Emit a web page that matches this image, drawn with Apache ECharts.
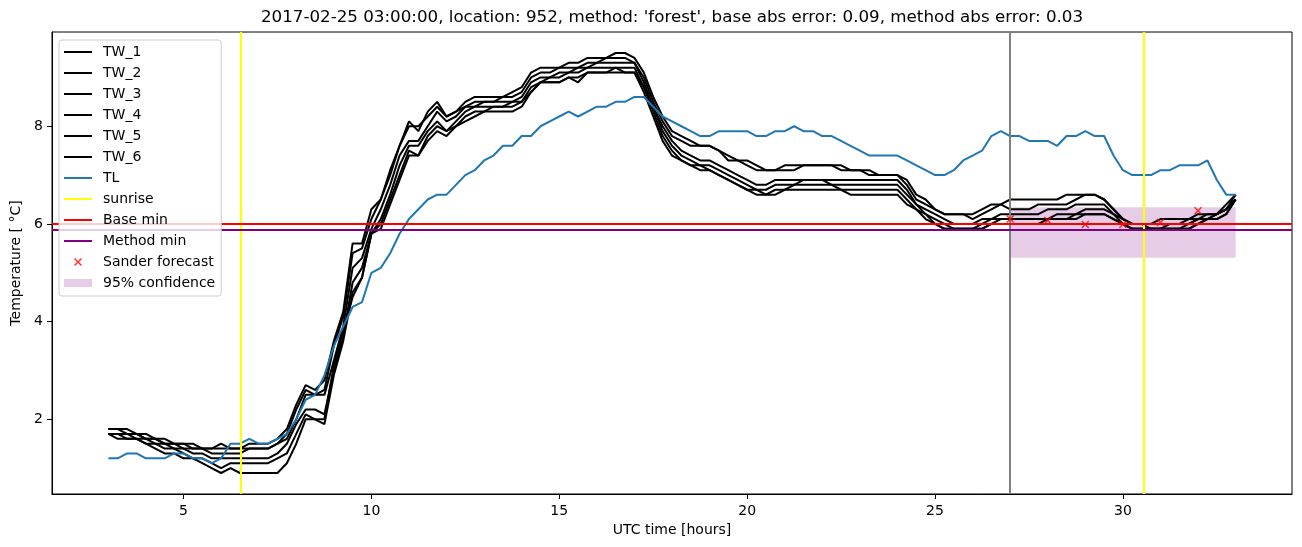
<!DOCTYPE html>
<html><head><meta charset="utf-8">
<script src="https://cdn.jsdelivr.net/npm/echarts@6/dist/echarts.min.js"></script>
<style>html,body{margin:0;padding:0;background:#fff}#c{width:1302px;height:547px}</style>
</head><body><div id="c"></div>
<script>
// sampling grid (hours, every 15 min from 3 to 33)
const hours = []; for (let i = 0; i <= 120; i++) hours.push(3 + i * 0.25);

const TW_1 = [1.8,1.8,1.8,1.7, 1.7,1.6,1.6,1.5, 1.5,1.5,1.4,1.4, 1.5,1.4,1.4,1.5, 1.5,1.5,1.6,1.8,
  2.3,2.7,2.6,2.8, 3.6,4.2,5.6,5.6, 6.3,6.5,7.1,7.6, 8.1,7.9,8.3,8.5, 8.2,8.3,8.5,8.6,
  8.6,8.6,8.6,8.7, 8.8,9.1,9.2,9.2, 9.2,9.3,9.3,9.4, 9.4,9.4,9.5,9.5, 9.4,9.1,8.6,8.2,
  7.9,7.8,7.7,7.6, 7.6,7.5,7.4,7.3, 7.3,7.2,7.1,7.1, 7.2,7.2,7.2,7.2, 7.2,7.2,7.2,7.1,
  7.1,7.1,7.0,7.0, 7.0,6.9,6.6,6.5, 6.3,6.2,6.2,6.2, 6.2,6.3,6.4,6.4, 6.5,6.5,6.5,6.5,
  6.5,6.5,6.6,6.6, 6.6,6.6,6.5,6.3, 6.1,6.0,6.0,6.0, 6.1,6.1,6.1,6.1, 6.2,6.2,6.2,6.4, 6.6];
const TW_2 = [1.8,1.8,1.7,1.7, 1.6,1.6,1.5,1.5, 1.5,1.4,1.4,1.4, 1.4,1.4,1.4,1.4, 1.4,1.4,1.5,1.7,
  2.2,2.6,2.5,2.6, 3.5,4.1,5.4,5.5, 6.1,6.5,7.0,7.6, 8.0,8.0,8.2,8.4, 8.2,8.3,8.4,8.5,
  8.5,8.5,8.6,8.6, 8.7,9.0,9.1,9.1, 9.2,9.2,9.2,9.3, 9.3,9.4,9.4,9.4, 9.3,9.0,8.5,8.1,
  7.8,7.7,7.6,7.6, 7.6,7.5,7.3,7.3, 7.2,7.1,7.1,7.1, 7.1,7.1,7.2,7.2, 7.2,7.2,7.1,7.1,
  7.1,7.0,7.0,7.0, 7.0,6.8,6.5,6.4, 6.3,6.2,6.2,6.2, 6.1,6.2,6.3,6.4, 6.3,6.3,6.3,6.4,
  6.4,6.4,6.4,6.5, 6.6,6.6,6.5,6.3, 6.1,6.0,6.0,6.0, 6.0,6.0,6.0,6.1, 6.1,6.2,6.2,6.3, 6.6];
const TW_3 = [1.7,1.7,1.7,1.7, 1.6,1.6,1.5,1.5, 1.4,1.4,1.4,1.3, 1.3,1.3,1.3,1.4, 1.4,1.4,1.5,1.6,
  2.0,2.5,2.5,2.5, 3.2,3.9,5.1,5.3, 5.9,6.3,6.8,7.4, 7.7,7.7,8.0,8.3, 8.1,8.2,8.4,8.4,
  8.5,8.5,8.5,8.5, 8.6,8.9,9.0,9.0, 9.1,9.1,9.2,9.2, 9.3,9.3,9.3,9.3, 9.3,8.9,8.4,8.0,
  7.7,7.5,7.4,7.3, 7.3,7.2,7.1,7.0, 6.9,6.8,6.8,6.9, 6.9,6.9,6.9,6.9, 6.9,6.9,6.9,6.9,
  6.9,6.9,6.9,6.9, 6.9,6.7,6.4,6.3, 6.2,6.1,6.0,6.0, 6.0,6.1,6.1,6.2, 6.2,6.2,6.2,6.2,
  6.3,6.3,6.3,6.4, 6.4,6.4,6.4,6.2, 6.1,6.0,6.0,5.9, 5.9,6.0,6.0,6.0, 6.1,6.1,6.2,6.3, 6.5];
const TW_4 = [1.7,1.7,1.7,1.6, 1.6,1.5,1.5,1.4, 1.4,1.3,1.3,1.2, 1.2,1.2,1.2,1.2, 1.2,1.2,1.3,1.5,
  1.9,2.2,2.2,2.1, 3.0,3.7,4.8,5.1, 5.8,6.1,6.6,7.2, 7.6,7.6,7.9,8.1, 7.9,8.1,8.3,8.4,
  8.4,8.4,8.4,8.5, 8.5,8.8,8.9,9.0, 9.0,9.1,9.1,9.2, 9.2,9.2,9.2,9.2, 9.2,8.8,8.4,7.9,
  7.6,7.4,7.3,7.2, 7.2,7.1,7.0,6.9, 6.8,6.7,6.7,6.8, 6.8,6.8,6.9,6.9, 6.9,6.8,6.8,6.8,
  6.8,6.8,6.8,6.8, 6.8,6.6,6.4,6.2, 6.1,6.0,5.9,5.9, 5.9,6.0,6.1,6.1, 6.1,6.1,6.1,6.1,
  6.1,6.2,6.2,6.2, 6.3,6.3,6.3,6.2, 6.0,5.9,5.9,5.9, 5.9,5.9,5.9,6.0, 6.1,6.1,6.2,6.3, 6.5];
const TW_5 = [1.7,1.7,1.6,1.6, 1.5,1.5,1.4,1.4, 1.3,1.2,1.2,1.1, 1.0,1.1,1.1,1.1, 1.1,1.1,1.2,1.3,
  1.7,2.1,2.0,1.9, 2.9,3.6,4.6,4.9, 5.8,6.0,6.5,7.0, 7.5,7.4,7.8,8.0, 7.9,8.0,8.2,8.3,
  8.3,8.4,8.4,8.4, 8.5,8.7,8.9,8.9, 8.9,9.0,9.0,9.1, 9.1,9.1,9.2,9.1, 9.1,8.8,8.3,7.8,
  7.5,7.3,7.2,7.2, 7.1,7.0,6.9,6.8, 6.7,6.7,6.6,6.7, 6.7,6.8,6.8,6.8, 6.8,6.8,6.7,6.7,
  6.7,6.7,6.7,6.7, 6.7,6.5,6.3,6.2, 6.0,5.9,5.9,5.9, 5.9,5.9,6.0,6.1, 6.1,6.1,6.1,6.1,
  6.1,6.1,6.1,6.2, 6.2,6.2,6.2,6.1, 6.0,5.9,5.9,5.9, 5.9,5.9,5.9,5.9, 6.0,6.1,6.1,6.2, 6.5];
const TW_6 = [1.7,1.6,1.6,1.6, 1.5,1.4,1.3,1.3, 1.2,1.2,1.1,1.0, 0.9,1.0,0.9,0.9, 0.9,0.9,0.9,1.1,
  1.5,2.0,2.0,2.0, 3.1,3.8,4.5,4.9, 5.8,5.9,6.4,6.9, 7.4,7.4,7.7,7.9, 7.8,8.0,8.1,8.2,
  8.3,8.3,8.3,8.3, 8.4,8.7,8.9,8.9, 8.9,9.0,8.9,9.1, 9.1,9.1,9.1,9.1, 9.1,8.7,8.2,7.7,
  7.4,7.3,7.2,7.1, 7.1,7.0,6.9,6.8, 6.7,6.6,6.6,6.6, 6.7,6.7,6.7,6.7, 6.7,6.7,6.7,6.6,
  6.6,6.6,6.6,6.6, 6.6,6.4,6.3,6.1, 6.0,5.9,5.9,5.9, 5.9,5.9,6.0,6.0, 6.0,6.0,6.0,6.0,
  6.1,6.1,6.1,6.1, 6.2,6.2,6.2,6.1, 6.0,5.9,5.9,5.9, 5.9,5.9,5.9,5.9, 6.0,6.1,6.1,6.2, 6.5];
const TL = [1.2,1.2,1.3,1.3, 1.2,1.2,1.2,1.3, 1.3,1.2,1.2,1.1, 1.2,1.5,1.5,1.6, 1.5,1.5,1.6,1.7,
  2.0,2.4,2.5,2.9, 3.5,3.9,4.3,4.4, 5.0,5.1,5.4,5.8, 6.1,6.3,6.5,6.6, 6.6,6.8,7.0,7.1,
  7.3,7.4,7.6,7.6, 7.8,7.8,8.0,8.1, 8.2,8.3,8.2,8.3, 8.4,8.4,8.5,8.5, 8.6,8.6,8.4,8.2,
  8.1,8.0,7.9,7.8, 7.8,7.9,7.9,7.9, 7.9,7.8,7.8,7.9, 7.9,8.0,7.9,7.9, 7.8,7.8,7.7,7.6,
  7.5,7.4,7.4,7.4, 7.4,7.3,7.2,7.1, 7.0,7.0,7.1,7.3, 7.4,7.5,7.8,7.9, 7.8,7.8,7.7,7.7,
  7.7,7.6,7.8,7.8, 7.9,7.8,7.8,7.4, 7.1,7.0,7.0,7.0, 7.1,7.1,7.2,7.2, 7.2,7.3,6.9,6.6, 6.6];

const forecastHours = [27, 28, 29, 30, 31, 32];
const forecastValues = [6.10, 6.07, 5.99, 5.99, 6.03, 6.27];
const sunriseHours = [6.53, 30.55];
const nowHour = 27;
const baseMin = 6.0;
const methodMin = 5.88;
const confHours = [27, 33];
const confRange = [5.31, 6.34];
const xTicks = [5, 10, 15, 20, 25, 30];
const yTicks = [2, 4, 6, 8];
const titleText = "2017-02-25 03:00:00, location: 952, method: 'forest', base abs error: 0.09, method abs error: 0.03";

const FONT = '"DejaVu Sans", "Liberation Sans", sans-serif';
const pairs = arr => arr.map((v, i) => [hours[i], v]);
const twNames = ['TW_1', 'TW_2', 'TW_3', 'TW_4', 'TW_5', 'TW_6'];
const twData = [TW_1, TW_2, TW_3, TW_4, TW_5, TW_6];
const XPATH = 'path://M1.3,0 L5,3.7 L8.7,0 L10,1.3 L6.3,5 L10,8.7 L8.7,10 L5,6.3 L1.3,10 L0,8.7 L3.7,5 L0,1.3 Z';
const BARPATH = 'path://M0,0 L28,0 L28,2 L0,2 Z';

const series = [];
series.push({
  name: '95% confidence', type: 'line', data: [], symbol: 'none', z: 1,
  color: 'rgba(128,0,128,0.2)',
  itemStyle: { color: 'rgba(128,0,128,0.2)' },
  markArea: { silent: true, itemStyle: { color: 'rgba(128,0,128,0.2)' },
    data: [[{ xAxis: confHours[0], yAxis: confRange[0] }, { xAxis: confHours[1], yAxis: confRange[1] }]] }
});
twData.forEach((d, i) => series.push({
  name: twNames[i], type: 'line', data: pairs(d), symbol: 'none', z: 2,
  color: '#000000', itemStyle: { color: '#000000' }, lineStyle: { color: '#000000', width: 2 }
}));
series.push({ name: 'TL', type: 'line', data: pairs(TL), symbol: 'none', z: 3,
  color: '#1f77b4', itemStyle: { color: '#1f77b4' }, lineStyle: { color: '#1f77b4', width: 2 } });
const mlBase = { symbol: ['none', 'none'], silent: true, label: { show: false }, animation: false };
series.push({ name: 'sunrise', type: 'line', data: [], symbol: 'none', z: 4,
  color: '#ffff00', itemStyle: { color: '#ffff00' }, lineStyle: { color: '#ffff00', width: 2 },
  markLine: Object.assign({}, mlBase, { lineStyle: { color: '#ffff00', width: 2, type: 'solid' },
    data: sunriseHours.map(h => ({ xAxis: h })) }) });
series.push({ name: 'now', type: 'line', data: [], symbol: 'none', z: 4,
  color: '#808080', lineStyle: { color: '#808080', width: 2 },
  markLine: Object.assign({}, mlBase, { lineStyle: { color: '#808080', width: 2, type: 'solid' },
    data: [{ xAxis: nowHour }] }) });
series.push({ name: 'Base min', type: 'line', data: [], symbol: 'none', z: 4,
  color: '#ff0000', itemStyle: { color: '#ff0000' }, lineStyle: { color: '#ff0000', width: 2 },
  markLine: Object.assign({}, mlBase, { lineStyle: { color: '#ff0000', width: 2, type: 'solid' },
    data: [{ yAxis: baseMin }] }) });
series.push({ name: 'Method min', type: 'line', data: [], symbol: 'none', z: 4,
  color: '#800080', itemStyle: { color: '#800080' }, lineStyle: { color: '#800080', width: 2 },
  markLine: Object.assign({}, mlBase, { lineStyle: { color: '#800080', width: 2, type: 'solid' },
    data: [{ yAxis: methodMin }] }) });
series.push({ name: 'Sander forecast', type: 'scatter', z: 5,
  data: forecastHours.map((h, i) => [h, forecastValues[i]]),
  symbol: XPATH, symbolSize: 8, color: '#ff0000', itemStyle: { color: '#ff0000' } });

const legendNames = ['TW_1', 'TW_2', 'TW_3', 'TW_4', 'TW_5', 'TW_6', 'TL', 'sunrise', 'Base min', 'Method min', 'Sander forecast', '95% confidence'];

const chart = echarts.init(document.getElementById('c'), null, { renderer: 'canvas' });
chart.setOption({
  animation: false,
  backgroundColor: '#ffffff',
  textStyle: { fontFamily: FONT },
  graphic: [{
    type: 'text', x: 672, y: 18, z: 10,
    style: { text: titleText, fill: '#000', font: '16.7px ' + FONT, align: 'center', verticalAlign: 'middle', textAlign: 'center', textVerticalAlign: 'middle' }
  }],
  grid: { left: 52, right: 10, top: 32, bottom: 53, show: true, borderColor: '#000', borderWidth: 1, backgroundColor: 'transparent' },
  legend: {
    data: legendNames.map(n => n === '95% confidence' ? { name: n, icon: 'rect' } :
      (n === 'Sander forecast' ? { name: n, icon: XPATH } : { name: n, icon: BARPATH })),
    orient: 'vertical', left: 59, top: 40, z: 10,
    itemWidth: 28, itemHeight: 8, itemGap: 7,
    padding: [5, 6, 6, 5],
    backgroundColor: 'rgba(255,255,255,0.8)', borderColor: '#cccccc', borderWidth: 1, borderRadius: 3,
    textStyle: { fontFamily: FONT, fontSize: 14, color: '#000', padding: [0, 0, 0, 6] },
    selectedMode: false
  },
  xAxis: {
    type: 'value', min: 1.5, max: 34.5,
    name: 'UTC time [hours]', nameLocation: 'middle', nameGap: 28,
    nameTextStyle: { fontFamily: FONT, fontSize: 14, color: '#000' },
    axisLine: { show: true, lineStyle: { color: '#000', width: 1 } },
    axisTick: { show: true, length: 5, lineStyle: { color: '#000' }, customValues: xTicks },
    axisLabel: { fontFamily: FONT, fontSize: 14, color: '#000', margin: 10, customValues: xTicks },
    splitLine: { show: false }
  },
  yAxis: {
    type: 'value', min: 0.47, max: 9.93,
    name: 'Temperature [ °C]', nameLocation: 'middle', nameGap: 27, nameRotate: 90,
    nameTextStyle: { fontFamily: FONT, fontSize: 14, color: '#000' },
    axisLine: { show: true, lineStyle: { color: '#000', width: 1 } },
    axisTick: { show: true, length: 5, lineStyle: { color: '#000' }, customValues: yTicks },
    axisLabel: { fontFamily: FONT, fontSize: 14, color: '#000', margin: 9, customValues: yTicks },
    splitLine: { show: false }
  },
  series: series
});
</script>
</body></html>
